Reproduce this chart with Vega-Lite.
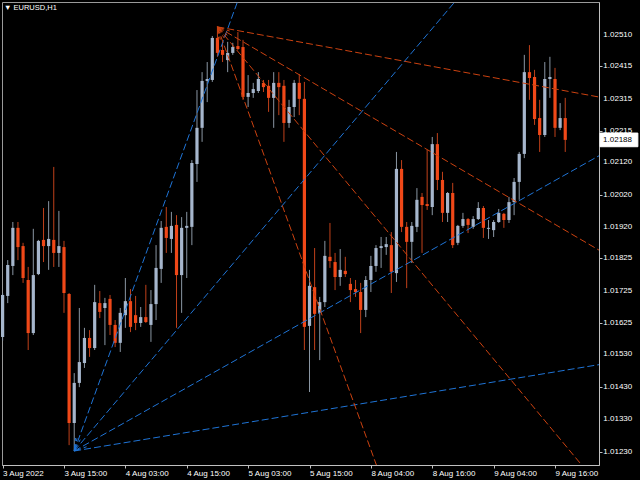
{
  "$schema": "https://vega.github.io/schema/vega-lite/v6.json",
  "width": 597,
  "height": 463,
  "autosize": {"type": "none"},
  "padding": {"left": 2, "top": 2, "right": 41, "bottom": 15},
  "background": "#000000",
  "config": {
    "view": {"stroke": "#9a9a9a", "strokeWidth": 1},
    "font": "Liberation Sans",
    "axis": {
      "title": null,
      "grid": false,
      "domainColor": "#c0c0c0",
      "tickColor": "#c0c0c0",
      "tickSize": 3,
      "labelColor": "#ffffff",
      "labelFont": "Liberation Sans",
      "labelFontSize": 8,
      "labelAlign": "left",
      "labelOverlap": false,
      "labelFlush": false,
      "labelBound": false
    },
    "axisX": {"labelBaseline": "top", "labelPadding": 1}
  },
  "title": {
    "text": "▼ EURUSD,H1",
    "anchor": "start",
    "frame": "group",
    "orient": "top",
    "offset": -9,
    "dx": 2,
    "fontSize": 7.5,
    "fontWeight": "normal",
    "font": "Liberation Sans",
    "color": "#ffffff"
  },
  "datasets": {
    "candles": [
      {"i":-12,"o":1.01583,"h":1.01718,"l":1.01571,"c":1.01712},
      {"i":-11,"o":1.01709,"h":1.01819,"l":1.01687,"c":1.01804},
      {"i":-10,"o":1.01801,"h":1.01936,"l":1.01773,"c":1.01918},
      {"i":-9,"o":1.01918,"h":1.01936,"l":1.01819,"c":1.01859},
      {"i":-8,"o":1.01862,"h":1.01872,"l":1.01749,"c":1.01764},
      {"i":-7,"o":1.01758,"h":1.01798,"l":1.01543,"c":1.01595},
      {"i":-6,"o":1.01595,"h":1.01915,"l":1.01589,"c":1.01773},
      {"i":-5,"o":1.01776,"h":1.01881,"l":1.01773,"c":1.01878},
      {"i":-4,"o":1.01881,"h":1.01979,"l":1.01813,"c":1.01862},
      {"i":-3,"o":1.01862,"h":1.02,"l":1.01789,"c":1.01884},
      {"i":-2,"o":1.01881,"h":1.02105,"l":1.01798,"c":1.01841},
      {"i":-1,"o":1.01841,"h":1.0197,"l":1.01798,"c":1.01862},
      {"i":0,"o":1.01859,"h":1.01878,"l":1.01657,"c":1.01718},
      {"i":1,"o":1.01715,"h":1.01718,"l":1.01251,"c":1.01319},
      {"i":2,"o":1.01319,"h":1.01472,"l":1.01233,"c":1.01442},
      {"i":3,"o":1.01442,"h":1.01672,"l":1.01429,"c":1.01506},
      {"i":4,"o":1.01503,"h":1.01611,"l":1.01488,"c":1.0158},
      {"i":5,"o":1.0158,"h":1.01604,"l":1.01522,"c":1.01549},
      {"i":6,"o":1.01549,"h":1.01743,"l":1.01543,"c":1.0169},
      {"i":7,"o":1.01687,"h":1.01724,"l":1.01641,"c":1.0166},
      {"i":8,"o":1.01672,"h":1.01703,"l":1.01558,"c":1.01687},
      {"i":9,"o":1.017,"h":1.01712,"l":1.01589,"c":1.0162},
      {"i":10,"o":1.0162,"h":1.01635,"l":1.01552,"c":1.01565},
      {"i":11,"o":1.01565,"h":1.01672,"l":1.01537,"c":1.01657},
      {"i":12,"o":1.0165,"h":1.01764,"l":1.01611,"c":1.01693},
      {"i":13,"o":1.01693,"h":1.0173,"l":1.01598,"c":1.01614},
      {"i":14,"o":1.0165,"h":1.01709,"l":1.01604,"c":1.01626},
      {"i":15,"o":1.01626,"h":1.01675,"l":1.01614,"c":1.01644},
      {"i":16,"o":1.01644,"h":1.01743,"l":1.01626,"c":1.01629},
      {"i":17,"o":1.0162,"h":1.01727,"l":1.01568,"c":1.01684},
      {"i":18,"o":1.01684,"h":1.01865,"l":1.01635,"c":1.01795},
      {"i":19,"o":1.01792,"h":1.01939,"l":1.01749,"c":1.01918},
      {"i":20,"o":1.01921,"h":1.01982,"l":1.01841,"c":1.01887},
      {"i":21,"o":1.01884,"h":1.01967,"l":1.01841,"c":1.01924},
      {"i":22,"o":1.01927,"h":1.01957,"l":1.01611,"c":1.01773},
      {"i":23,"o":1.01773,"h":1.01951,"l":1.01657,"c":1.01918},
      {"i":24,"o":1.01918,"h":1.01967,"l":1.01764,"c":1.01924},
      {"i":25,"o":1.01921,"h":1.02126,"l":1.01865,"c":1.02117},
      {"i":26,"o":1.02114,"h":1.02341,"l":1.02059,"c":1.02225},
      {"i":27,"o":1.02225,"h":1.02396,"l":1.02182,"c":1.02369},
      {"i":28,"o":1.02369,"h":1.02427,"l":1.02304,"c":1.02375},
      {"i":29,"o":1.02372,"h":1.02507,"l":1.02366,"c":1.02501},
      {"i":30,"o":1.02501,"h":1.02535,"l":1.02443,"c":1.02455},
      {"i":31,"o":1.02464,"h":1.02489,"l":1.02427,"c":1.02449},
      {"i":32,"o":1.02433,"h":1.02489,"l":1.02396,"c":1.02455},
      {"i":33,"o":1.02455,"h":1.02486,"l":1.02449,"c":1.02473},
      {"i":34,"o":1.02476,"h":1.02519,"l":1.02464,"c":1.02467},
      {"i":35,"o":1.02473,"h":1.02495,"l":1.02311,"c":1.0232},
      {"i":36,"o":1.0232,"h":1.02387,"l":1.02289,"c":1.02332},
      {"i":37,"o":1.02332,"h":1.02363,"l":1.02317,"c":1.02344},
      {"i":38,"o":1.02338,"h":1.02396,"l":1.02332,"c":1.02375},
      {"i":39,"o":1.02363,"h":1.02372,"l":1.02335,"c":1.0235},
      {"i":40,"o":1.02354,"h":1.02372,"l":1.02274,"c":1.02317},
      {"i":41,"o":1.02317,"h":1.02396,"l":1.02225,"c":1.02363},
      {"i":42,"o":1.02363,"h":1.02396,"l":1.02264,"c":1.0235},
      {"i":43,"o":1.02354,"h":1.02372,"l":1.02182,"c":1.0224},
      {"i":44,"o":1.0224,"h":1.02311,"l":1.02225,"c":1.02289},
      {"i":45,"o":1.02289,"h":1.02372,"l":1.02258,"c":1.02363},
      {"i":46,"o":1.02363,"h":1.0239,"l":1.02264,"c":1.02314},
      {"i":47,"o":1.02314,"h":1.02366,"l":1.01543,"c":1.01614},
      {"i":48,"o":1.01617,"h":1.01789,"l":1.01414,"c":1.0174},
      {"i":49,"o":1.01736,"h":1.01856,"l":1.01543,"c":1.01654},
      {"i":50,"o":1.01657,"h":1.01706,"l":1.01512,"c":1.0169},
      {"i":51,"o":1.0169,"h":1.01878,"l":1.01675,"c":1.01832},
      {"i":52,"o":1.01829,"h":1.01933,"l":1.01795,"c":1.01816},
      {"i":53,"o":1.01813,"h":1.01841,"l":1.01727,"c":1.01767},
      {"i":54,"o":1.01767,"h":1.01853,"l":1.0174,"c":1.01789},
      {"i":55,"o":1.01786,"h":1.01829,"l":1.01767,"c":1.01776},
      {"i":56,"o":1.01746,"h":1.01764,"l":1.0169,"c":1.01727},
      {"i":57,"o":1.0173,"h":1.01758,"l":1.01706,"c":1.01721},
      {"i":58,"o":1.01721,"h":1.01749,"l":1.01595,"c":1.01666},
      {"i":59,"o":1.01666,"h":1.0177,"l":1.01644,"c":1.01758},
      {"i":60,"o":1.01758,"h":1.01832,"l":1.01721,"c":1.01801},
      {"i":61,"o":1.01801,"h":1.01865,"l":1.01783,"c":1.01856},
      {"i":62,"o":1.01856,"h":1.0189,"l":1.01795,"c":1.01862},
      {"i":63,"o":1.01859,"h":1.0189,"l":1.01835,"c":1.01868},
      {"i":64,"o":1.01865,"h":1.01905,"l":1.01718,"c":1.01783},
      {"i":65,"o":1.01779,"h":1.02151,"l":1.01752,"c":1.02099},
      {"i":66,"o":1.02099,"h":1.02126,"l":1.01905,"c":1.01921},
      {"i":67,"o":1.01921,"h":1.01936,"l":1.01733,"c":1.01875},
      {"i":68,"o":1.01875,"h":1.01936,"l":1.0181,"c":1.01924},
      {"i":69,"o":1.01921,"h":1.0204,"l":1.01905,"c":1.02004},
      {"i":70,"o":1.02013,"h":1.02025,"l":1.01841,"c":1.01988},
      {"i":71,"o":1.01991,"h":1.02157,"l":1.01973,"c":1.01985},
      {"i":72,"o":1.01982,"h":1.02197,"l":1.01957,"c":1.02175},
      {"i":73,"o":1.02175,"h":1.02209,"l":1.02034,"c":1.02065},
      {"i":74,"o":1.02065,"h":1.0209,"l":1.01936,"c":1.01964},
      {"i":75,"o":1.01964,"h":1.02028,"l":1.01936,"c":1.02025},
      {"i":76,"o":1.02025,"h":1.02056,"l":1.01856,"c":1.01865},
      {"i":77,"o":1.01872,"h":1.01927,"l":1.01865,"c":1.01924},
      {"i":78,"o":1.01924,"h":1.01964,"l":1.01918,"c":1.01945},
      {"i":79,"o":1.01945,"h":1.01948,"l":1.01902,"c":1.01927},
      {"i":80,"o":1.01921,"h":1.01954,"l":1.01915,"c":1.01945},
      {"i":81,"o":1.01945,"h":1.01997,"l":1.01942,"c":1.01979},
      {"i":82,"o":1.01979,"h":1.01985,"l":1.01887,"c":1.01918},
      {"i":83,"o":1.01915,"h":1.01942,"l":1.01884,"c":1.01918},
      {"i":84,"o":1.01911,"h":1.01942,"l":1.0189,"c":1.01936},
      {"i":85,"o":1.01936,"h":1.01976,"l":1.01933,"c":1.01964},
      {"i":86,"o":1.01961,"h":1.01964,"l":1.01918,"c":1.01942},
      {"i":87,"o":1.01942,"h":1.02013,"l":1.01933,"c":1.01997},
      {"i":88,"o":1.01997,"h":1.02071,"l":1.01957,"c":1.02059},
      {"i":89,"o":1.02059,"h":1.02151,"l":1.02004,"c":1.02145},
      {"i":90,"o":1.02145,"h":1.02449,"l":1.02132,"c":1.02396},
      {"i":91,"o":1.02396,"h":1.02479,"l":1.02311,"c":1.02378},
      {"i":92,"o":1.02381,"h":1.02403,"l":1.02234,"c":1.02252},
      {"i":93,"o":1.02255,"h":1.02311,"l":1.02151,"c":1.02203},
      {"i":94,"o":1.02203,"h":1.02427,"l":1.02197,"c":1.02375},
      {"i":95,"o":1.02375,"h":1.02443,"l":1.02317,"c":1.02381},
      {"i":96,"o":1.02375,"h":1.02409,"l":1.02197,"c":1.02225},
      {"i":97,"o":1.02225,"h":1.02301,"l":1.02218,"c":1.02255},
      {"i":98,"o":1.02255,"h":1.02317,"l":1.02151,"c":1.02188}
    ],
    "fans": [
      {"fan":"blue","i0":2,"p0":1.01233,"i1":110,"p1":1.05899},
      {"fan":"blue","i0":2,"p0":1.01233,"i1":110,"p1":1.03234},
      {"fan":"blue","i0":2,"p0":1.01233,"i1":110,"p1":1.02187},
      {"fan":"blue","i0":2,"p0":1.01233,"i1":110,"p1":1.01512},
      {"fan":"blue","i0":2,"p0":1.01233,"i1":4.41,"p1":1.01246},
      {"fan":"blue","i0":2,"p0":1.01233,"i1":3.18,"p1":1.01268},
      {"fan":"blue","i0":2,"p0":1.01233,"i1":2.55,"p1":1.01272},
      {"fan":"blue","i0":2,"p0":1.01233,"i1":2.25,"p1":1.01273},
      {"fan":"red","i0":30,"p0":1.02535,"i1":110,"p1":1.02304},
      {"fan":"red","i0":30,"p0":1.02535,"i1":110,"p1":1.018},
      {"fan":"red","i0":30,"p0":1.02535,"i1":110,"p1":1.01024},
      {"fan":"red","i0":30,"p0":1.02535,"i1":110,"p1":0.99073},
      {"fan":"red","i0":30,"p0":1.02535,"i1":32.4,"p1":1.02522},
      {"fan":"red","i0":30,"p0":1.02535,"i1":31.94,"p1":1.02509},
      {"fan":"red","i0":30,"p0":1.02535,"i1":31.29,"p1":1.02501},
      {"fan":"red","i0":30,"p0":1.02535,"i1":30.57,"p1":1.02496},
      {"fan":"red","i0":30,"p0":1.02535,"i1":30.25,"p1":1.02495}
    ],
    "yticks": [
      {"v":1.0123},{"v":1.0133},{"v":1.0143},{"v":1.0153},{"v":1.01625},{"v":1.01725},{"v":1.01825},
      {"v":1.0192},{"v":1.0202},{"v":1.0212},{"v":1.02215},{"v":1.02315},{"v":1.02415},{"v":1.0251}
    ],
    "last": [{"price":1.02188,"label":"1.02188"}]
  },
  "layer": [
    {
      "data": {"name": "candles"},
      "mark": {"type": "rule", "strokeWidth": 1},
      "encoding": {
        "x": {
          "field": "i", "type": "quantitative",
          "scale": {"domain": [-12.12, 104.6], "nice": false, "zero": false},
          "axis": {
            "orient": "bottom",
            "values": [-12, 0, 12, 24, 36, 48, 60, 72, 84, 96],
            "labelExpr": "['3 Aug 2022','3 Aug 15:00','4 Aug 03:00','4 Aug 15:00','5 Aug 03:00','5 Aug 15:00','8 Aug 04:00','8 Aug 16:00','9 Aug 04:00','9 Aug 16:00'][(datum.value + 12) / 12]"
          }
        },
        "y": {
          "field": "l", "type": "quantitative",
          "scale": {"domain": [1.0119, 1.026113], "nice": false, "zero": false},
          "axis": {
            "orient": "right",
            "values": [1.0123, 1.0133, 1.0143, 1.0153, 1.01625, 1.01725, 1.01825, 1.0192, 1.0202, 1.0212, 1.02215, 1.02315, 1.02415, 1.0251],
            "labels": false
          }
        },
        "y2": {"field": "h"},
        "color": {
          "condition": {"test": "datum.c >= datum.o", "value": "#8a96a3"},
          "value": "#c0401a"
        }
      }
    },
    {
      "data": {"name": "candles"},
      "mark": {"type": "rule", "strokeWidth": 3.2},
      "encoding": {
        "x": {"field": "i", "type": "quantitative"},
        "y": {"field": "o", "type": "quantitative"},
        "y2": {"field": "c"},
        "color": {
          "condition": {"test": "datum.c >= datum.o", "value": "#a6b6cc"},
          "value": "#f04818"
        }
      }
    },
    {
      "data": {"name": "fans"},
      "mark": {"type": "rule", "strokeWidth": 1, "strokeDash": [7, 3], "clip": true},
      "encoding": {
        "x": {"field": "i0", "type": "quantitative"},
        "y": {"field": "p0", "type": "quantitative"},
        "x2": {"field": "i1"},
        "y2": {"field": "p1"},
        "color": {
          "condition": {"test": "datum.fan === 'blue'", "value": "#1f74d6"},
          "value": "#cc4210"
        }
      }
    },
    {
      "data": {"name": "yticks"},
      "mark": {"type": "text", "align": "left", "baseline": "middle", "font": "Liberation Sans", "fontSize": 8, "color": "#ffffff"},
      "encoding": {
        "x": {"datum": 105.45, "type": "quantitative"},
        "y": {"field": "v", "type": "quantitative"},
        "text": {"field": "v", "type": "quantitative", "format": ".5f"}
      }
    },
    {
      "data": {"name": "last"},
      "mark": {"type": "rect", "fill": "#ffffff", "stroke": "#ffffff"},
      "encoding": {
        "x": {"datum": 104.8, "type": "quantitative"},
        "x2": {"datum": 112.2},
        "y": {"datum": 1.02209, "type": "quantitative"},
        "y2": {"datum": 1.02167}
      }
    },
    {
      "data": {"name": "last"},
      "mark": {"type": "text", "align": "left", "baseline": "middle", "font": "Liberation Sans", "fontSize": 8, "color": "#000000"},
      "encoding": {
        "x": {"datum": 105.4, "type": "quantitative"},
        "y": {"field": "price", "type": "quantitative"},
        "text": {"field": "label"}
      }
    }
  ]
}
